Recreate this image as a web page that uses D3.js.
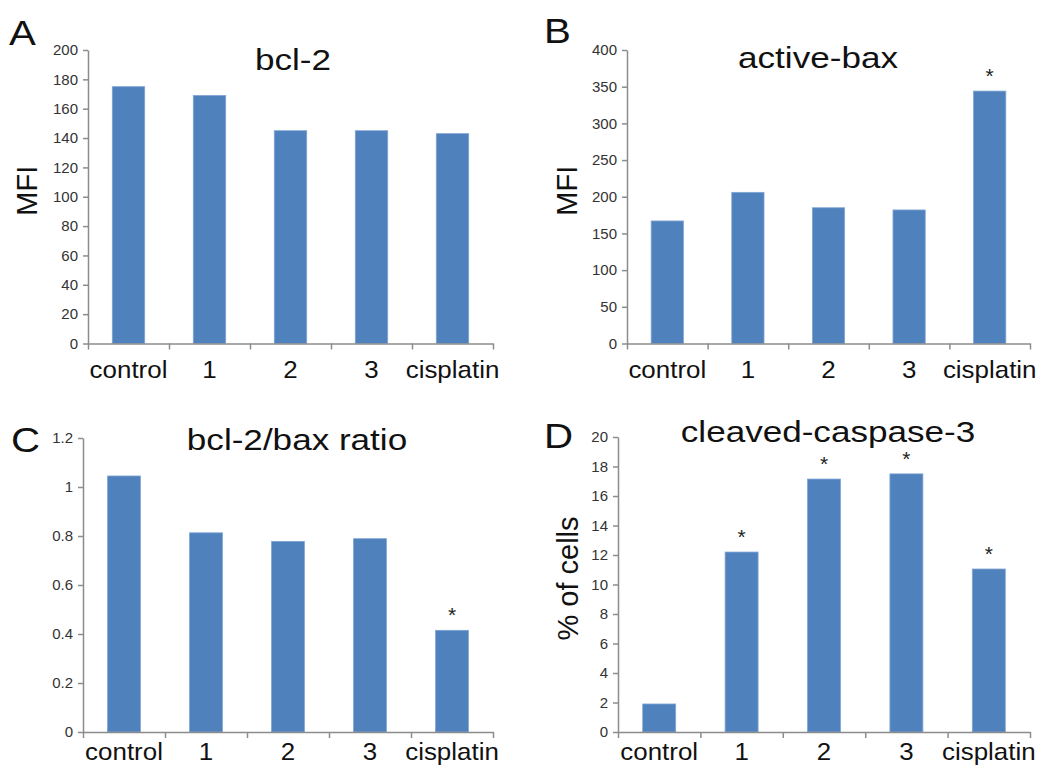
<!DOCTYPE html>
<html lang="en">
<head>
<meta charset="UTF-8" />
<title>bcl-2 / bax / caspase-3 panels</title>
<script src="https://d3js.org/d3.v7.min.js"></script>
<style>
  body { margin: 0; background: #fff; font-family: 'Liberation Sans', Arial, sans-serif; }
  svg { display: block; }
  .axis path, .axis line { stroke: #8c8c8c; stroke-width: 1.5px; }
  .axis text { font-family: 'Liberation Sans', Arial, sans-serif; font-size: 15px; fill: #333; }
  .cat { font-size: 24px; fill: #111; }
  .title { font-size: 30px; fill: #111; }
  .letter { font-size: 35px; fill: #111; }
  .ylab { font-size: 29px; fill: #111; }
  .star { font-size: 21px; fill: #222; }
</style>
</head>
<body>
<div id="chart"></div>
<script>
// data
const categories = ["control", "1", "2", "3", "cisplatin"];
const bcl2 = [175, 169, 145, 145, 143];
const activeBax = [167, 206, 185, 182, 344];
const ratio = [1.045, 0.813, 0.778, 0.789, 0.415];
const caspase = [1.9, 12.2, 17.15, 17.5, 11.05];
const bcl2Sig = [false, false, false, false, false];
const baxSig = [false, false, false, false, true];
const ratioSig = [false, false, false, false, true];
const caspaseSig = [false, true, true, true, true];

const W = 1045, H = 767;
const svg = d3.select("#chart").append("svg").attr("width", W).attr("height", H);

// panel layout (pixel boxes of the plot areas)
const panels = [
  { letter: "A", title: "bcl-2", ylabel: "MFI", values: bcl2, sig: bcl2Sig,
    max: 200, step: 20, x0: 88, x1: 493, top: 50, zero: 343.5, catOff: 34,
    letterPos: [9, 45], titlePos: [293, 70], ylabX: 37 },
  { letter: "B", title: "active-bax", ylabel: "MFI", values: activeBax, sig: baxSig,
    max: 400, step: 50, x0: 627, x1: 1030, top: 50, zero: 343.5, catOff: 34,
    letterPos: [544, 43], titlePos: [818, 68], ylabX: 577 },
  { letter: "C", title: "bcl-2/bax ratio", ylabel: null, values: ratio, sig: ratioSig,
    max: 1.2, step: 0.2, x0: 83, x1: 493, top: 438, zero: 732, catOff: 28,
    letterPos: [11, 452], titlePos: [297, 450], ylabX: 0 },
  { letter: "D", title: "cleaved-caspase-3", ylabel: "% of cells", values: caspase, sig: caspaseSig,
    max: 20, step: 2, x0: 618, x1: 1030, top: 437, zero: 732, catOff: 28,
    letterPos: [544, 448], titlePos: [828, 442], ylabX: 578 }
];

panels.forEach(p => {
  const g = svg.append("g");

  const y = d3.scaleLinear().domain([0, p.max]).range([p.zero, p.top]);
  const x = d3.scaleBand().domain(categories).range([p.x0, p.x1])
    .paddingInner(0.6).paddingOuter(0.3);
  const edge = d3.scaleLinear().domain([0, categories.length]).range([p.x0, p.x1]);

  // bars
  g.selectAll("rect.bar")
    .data(p.values)
    .join("rect")
    .attr("class", "bar")
    .attr("x", (d, i) => x(categories[i]))
    .attr("y", d => y(d))
    .attr("width", x.bandwidth())
    .attr("height", d => y(0) - y(d))
    .attr("fill", "#4f81bd")
    .attr("stroke", "#7fa4d3")
    .attr("stroke-width", 0.8);

  // significance stars
  g.selectAll("text.star")
    .data(p.values.map((v, i) => ({ v, i })).filter(d => p.sig[d.i]))
    .join("text")
    .attr("class", "star")
    .attr("text-anchor", "middle")
    .attr("x", d => x(categories[d.i]) + x.bandwidth() / 2)
    .attr("y", d => y(d.v) - 8)
    .text("*");

  // y axis
  const ticks = d3.range(0, p.max + p.step / 2, p.step);
  g.append("g")
    .attr("class", "axis")
    .attr("transform", `translate(${p.x0},0)`)
    .call(d3.axisLeft(y).tickValues(ticks).tickSize(5).tickSizeOuter(0).tickPadding(5)
      .tickFormat(d => String(+d.toFixed(2))));

  // x axis with ticks at category edges
  g.append("g")
    .attr("class", "axis")
    .attr("transform", `translate(0,${p.zero})`)
    .call(d3.axisBottom(edge).tickValues(d3.range(categories.length + 1))
      .tickSize(6).tickSizeOuter(0).tickFormat(""));

  // category labels
  g.selectAll("text.cat")
    .data(categories)
    .join("text")
    .attr("class", "cat")
    .attr("text-anchor", "middle")
    .attr("transform", d => `translate(${x(d) + x.bandwidth() / 2},${p.zero + p.catOff}) scale(1.08,1)`)
    .text(d => d);

  // title
  g.append("text")
    .attr("class", "title")
    .attr("text-anchor", "middle")
    .attr("transform", `translate(${p.titlePos[0]},${p.titlePos[1]}) scale(1.17,1)`)
    .text(p.title);

  // panel letter
  g.append("text")
    .attr("class", "letter")
    .attr("transform", `translate(${p.letterPos[0]},${p.letterPos[1]}) scale(1.15,1)`)
    .text(p.letter);

  // y label
  if (p.ylabel) {
    g.append("text")
      .attr("class", "ylab")
      .attr("text-anchor", "middle")
      .attr("transform", `translate(${p.ylabX},${(p.top + p.zero) / 2 - 6}) rotate(-90)`)
      .text(p.ylabel);
  }
});
</script>
</body>
</html>
